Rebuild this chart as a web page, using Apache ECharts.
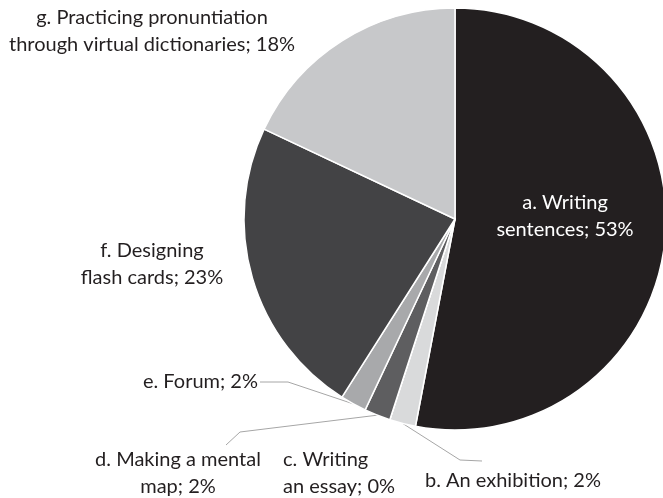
<!DOCTYPE html>
<html>
<head>
<meta charset="utf-8">
<script src="https://cdn.jsdelivr.net/npm/echarts@6/dist/echarts.min.js"></script>
<style>
html,body{margin:0;padding:0;background:#fff;}
#chart{width:663px;height:498px;}
</style>
</head>
<body>
<div id="chart"></div>
<script>
var activity_name=['a. Writing\nsentences','b. An exhibition','c. Writing\nan essay','d. Making a mental\nmap','e. Forum','f. Designing\nflash cards','g. Practicing pronuntiation\nthrough virtual dictionaries'];
var activity_pct=[53,2,0,2,2,23,18];
var slice_color=['#231f20','#d9dadb','#8a8a8c','#5e5e60','#a8a9ab','#434345','#c7c8ca'];

//标签位置 [x, y, align]
var label_pos=[
	[565,216,'center'],
	[425,481,'left'],
	[283,473,'left'],
	[178,473,'center'],
	[258,382,'right'],
	[152,264,'center'],
	[152,31,'center']
];
//引导线 [拐点, 终点]，没有的为null
var leader_pts=[
	null,
	[[460,460],[482,461]],
	null,
	[[240,432],[226,445]],
	[[288,382],[260,382]],
	null,
	null
];

var data=[];
for(var i=0;i<activity_pct.length;i++){
	data.push({
		value:activity_pct[i],
		name:activity_name[i],
		itemStyle:{color:slice_color[i]},
		label:{color:i==0?'#ffffff':'#231f20'},
		labelLine:{show:leader_pts[i]!=null}
	});
}

var option={
	animation:false,
	series:[
		{
			type:'pie',
			center:[455,219],
			radius:211,
			startAngle:90,
			clockwise:true,
			avoidLabelOverlap:false,
			itemStyle:{borderColor:'#ffffff',borderWidth:1.5},
			label:{
				show:true,
				position:'outside',
				fontFamily:'Lato',
				fontSize:20,
				lineHeight:27,
				formatter:function(p){
					return p.name+'; '+p.value+'%';
				}
			},
			labelLine:{
				length:20,
				length2:20,
				lineStyle:{color:'#a6a6a6',width:1}
			},
			labelLayout:function(params){
				var k=params.dataIndex;
				var pos=label_pos[k];
				var res={x:pos[0],y:pos[1],align:pos[2],verticalAlign:'middle'};
				if(leader_pts[k] && params.labelLinePoints){
					res.labelLinePoints=[params.labelLinePoints[0],leader_pts[k][0],leader_pts[k][1]];
				}
				return res;
			},
			data:data
		}
	]
};
var myChart=echarts.init(document.getElementById('chart'));
myChart.setOption(option);
</script>
</body>
</html>
